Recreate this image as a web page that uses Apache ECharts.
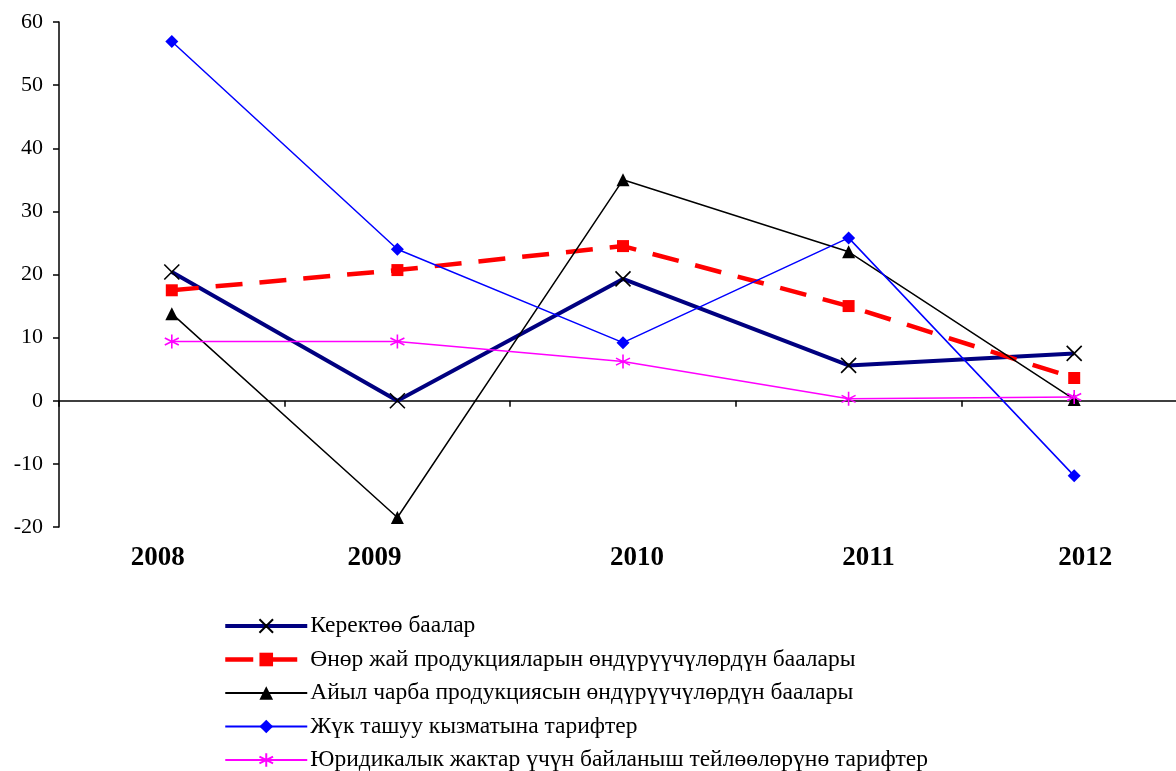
<!DOCTYPE html>
<html><head><meta charset="utf-8">
<script src="https://cdn.jsdelivr.net/npm/echarts@6/dist/echarts.min.js"></script>
<style>html,body{margin:0;padding:0;background:#fff;overflow:hidden;width:1176px;height:771px}#c{width:1187px;height:771px}</style>
</head><body><div id="c"></div>
<script>
const years = ['2008','2009','2010','2011','2012'];
const seriesNames = [
  'Керектөө баалар',
  'Өнөр жай продукцияларын өндүрүүчүлөрдүн баалары',
  'Айыл чарба продукциясын өндүрүүчүлөрдүн баалары',
  'Жүк ташуу кызматына тарифтер',
  'Юридикалык жактар үчүн байланыш тейлөөлөрүнө тарифтер'
];
const consumer = [20.4, 0.0, 19.3, 5.6, 7.5];
const industry = [17.5, 20.7, 24.5, 15.0, 3.6];
const agriculture = [13.8, -18.5, 35.0, 23.6, 0.2];
const freight = [56.9, 24.0, 9.2, 25.8, -11.9];
const telecom = [9.4, 9.4, 6.2, 0.3, 0.6];
const yTicks = {min: -20, max: 60, interval: 10};

const FONT = '"Liberation Serif", "Times New Roman", serif';
const crossPath = 'path://M0,0 L10,10 M10,0 L0,10';
const starPath = 'path://M5,0 L5,10 M0.7,2.5 L9.3,7.5 M0.7,7.5 L9.3,2.5';

// horizontal shift of each year label relative to its category (style only)
const labelShift = [-14, -23, 14, 20, 11];
const rich = {};
labelShift.forEach((d, i) => {
  rich['l' + i] = {fontSize: 27, fontWeight: 'bold', fontFamily: FONT, color: '#000',
    padding: d < 0 ? [0, -2 * d, 0, 0] : [0, 0, 0, 2 * d]};
});

const styles = [
  {symbol: crossPath, symbolSize: 15, line: {color: '#000080', width: 4},
   item: {color: '#000', borderColor: '#000', borderWidth: 1.6}, legendLine: {color: '#000080', width: 4}},
  {symbol: 'rect', symbolSize: 12, line: {color: '#ff0000', width: 4.5, type: [27, 17]},
   item: {color: '#ff0000', borderWidth: 0}, legendLine: {color: '#ff0000', width: 4.5, type: [28, 16]}},
  {symbol: 'triangle', symbolSize: 13, line: {color: '#000', width: 1.5},
   item: {color: '#000', borderWidth: 0}, legendLine: {color: '#000', width: 1.8}},
  {symbol: 'diamond', symbolSize: 13, line: {color: '#0000ff', width: 1.5},
   item: {color: '#0000ff', borderWidth: 0}, legendLine: {color: '#0000ff', width: 1.8}},
  {symbol: starPath, symbolSize: 14, line: {color: '#ff00ff', width: 1.5},
   item: {color: '#ff00ff', borderColor: '#ff00ff', borderWidth: 1.6}, legendLine: {color: '#ff00ff', width: 1.8}}
];
const values = [consumer, industry, agriculture, freight, telecom];

const chart = echarts.init(document.getElementById('c'));
chart.setOption({
  backgroundColor: '#fff',
  animation: false,
  textStyle: {fontFamily: FONT, color: '#000'},
  grid: {left: 59, top: 22, right: 0, height: 505, containLabel: false},
  xAxis: [
    {type: 'category', data: years, boundaryGap: true,
     axisLine: {onZero: true, lineStyle: {color: '#000', width: 1.5}},
     axisTick: {show: true, inside: false, length: 6, lineStyle: {color: '#000', width: 1.5}},
     axisLabel: {show: false}, splitLine: {show: false}},
    {type: 'category', data: years, boundaryGap: true, position: 'bottom',
     axisLine: {show: false}, axisTick: {show: false},
     axisLabel: {show: true, margin: 18, rich: rich,
       formatter: (v, i) => '{l' + i + '|' + v + '}'},
     splitLine: {show: false}}
  ],
  yAxis: {type: 'value', min: yTicks.min, max: yTicks.max, interval: yTicks.interval,
    axisLine: {show: true, lineStyle: {color: '#000', width: 1.5}},
    axisTick: {show: true, length: 6, lineStyle: {color: '#000', width: 1.5}},
    axisLabel: {fontSize: 22, fontFamily: FONT, color: '#000', margin: 16},
    splitLine: {show: false}},
  legend: {
    orient: 'vertical', left: 223, top: 614, height: 300, padding: 0, itemGap: 9.5,
    itemWidth: 82, itemHeight: 17,
    textStyle: {fontSize: 23.5, lineHeight: 20, fontFamily: FONT, color: '#000', padding: [0,0,0,-2]},
    data: seriesNames.map((n, i) => ({name: n, lineStyle: styles[i].legendLine}))
  },
  series: seriesNames.map((n, i) => ({
    name: n, type: 'line', data: values[i], xAxisIndex: 0,
    symbol: styles[i].symbol, symbolSize: styles[i].symbolSize,
    lineStyle: styles[i].line, itemStyle: styles[i].item
  }))
});
</script></body></html>
